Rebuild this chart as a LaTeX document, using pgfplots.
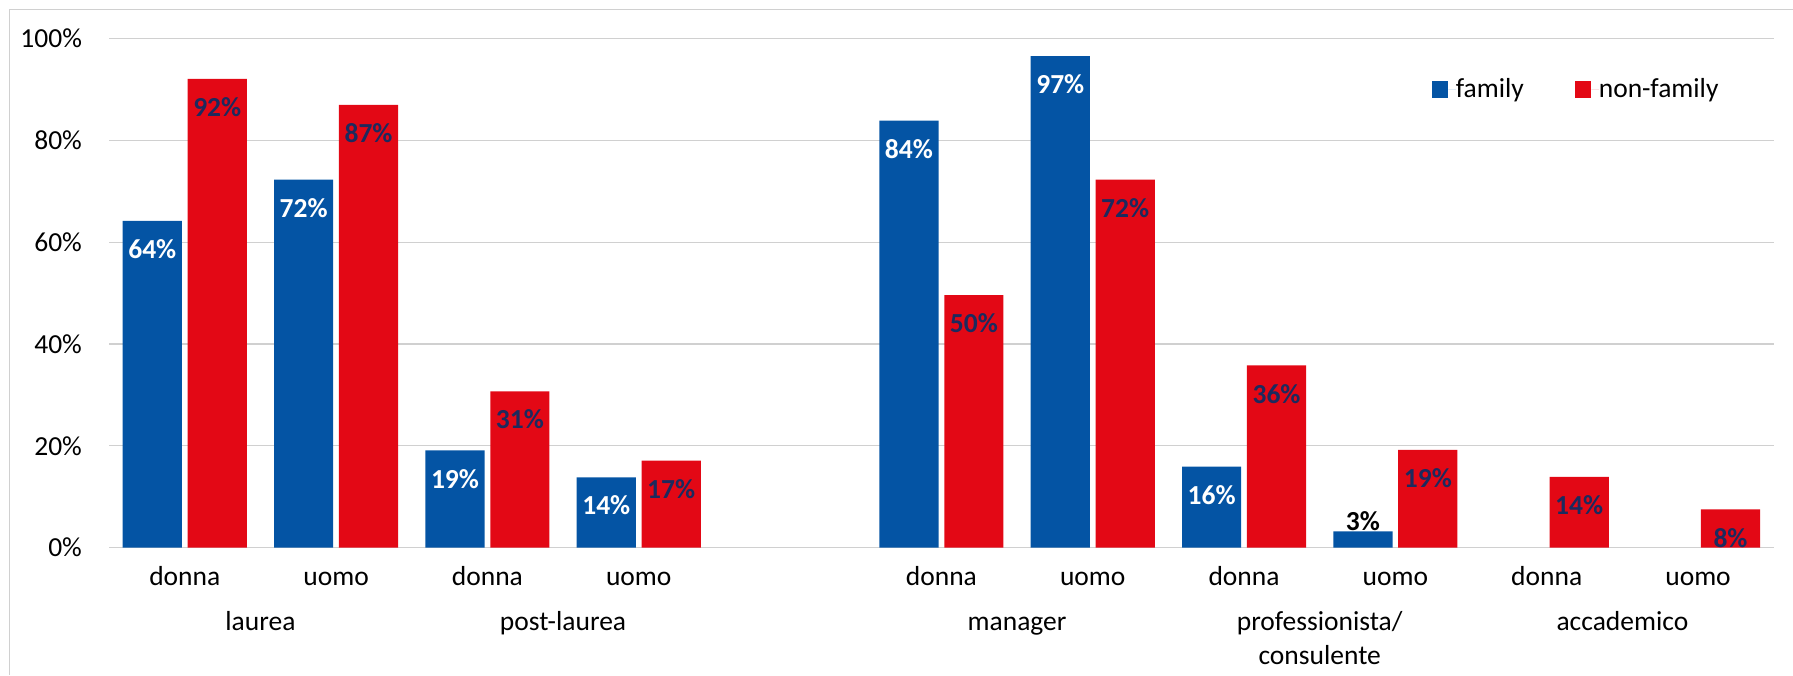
\documentclass[border=0pt]{standalone}
\usepackage{pgfplots}
\pgfplotsset{compat=1.18}
\usepackage{fontspec}
\setmainfont{Carlito}
\definecolor{fblue}{HTML}{0454A4}
\definecolor{nred}{HTML}{E30815}
\definecolor{navy}{HTML}{1C2A5E}
\definecolor{gridc}{HTML}{D0D0D0}
\newcommand{\fs}{\fontsize{13.75pt}{16.8pt}\selectfont}
\begin{document}
\begin{tikzpicture}
\path[use as bounding box] (-54.55pt,-63.7pt) rectangle (841.95pt,273.8pt);
\draw[gridc, line width=0.65pt] (-49.75pt,-63.7pt) -- (-49.75pt,269.05pt) -- (841.95pt,269.05pt);
\begin{axis}[
  scale only axis, width=832.3pt, height=254.45pt,
  xmin=-0.5, xmax=10.5, ymin=0, ymax=100,
  ybar=2.85pt, bar width=29.6pt,
  axis x line*=bottom, axis y line*=left, axis line style={draw=none},
  ymajorgrids, grid style={draw=gridc, line width=0.65pt},
  major tick length=0pt,
  ytick={0,20,40,60,80,100},
  yticklabel={\pgfmathprintnumber{\tick}\%},
  /pgf/number format/assume math mode=true,
  yticklabel style={anchor=east, inner sep=0pt, xshift=-13.4pt},
  xtick={0,1,2,3,5,6,7,8,9,10},
  xticklabels={donna,uomo,donna,uomo,donna,uomo,donna,uomo,donna,uomo},
  xticklabel style={anchor=base, inner sep=0pt, yshift=-18.7pt},
  tick label style={font=\fs},
  clip=false,
  point meta=explicit symbolic,
  nodes near coords,
  every node near coord/.append style={anchor=base, yshift=-18.8pt, font=\bfseries\fs, inner sep=0pt},
  legend columns=2,
  legend style={draw=none, fill=none, at={(0.7946,0.8998)}, anchor=west, inner sep=0pt, outer sep=0pt,
    font=\fs, /tikz/every even column/.append style={column sep=25.5pt},
    nodes={inner sep=0pt, outer sep=0pt}},
  myleg/.style={legend image code/.code={\fill[##1] (0pt,-4.1pt) rectangle (8.25pt,4.1pt); \path (8.25pt,0pt) -- (12pt,0pt);}},
]
\addplot[fill=fblue, draw=none, myleg, every node near coord/.append style={text=white}] coordinates {
  (0,64.2) [64\%]
  (1,72.3) [72\%]
  (2,19.1) [19\%]
  (3,13.8) [14\%]
  (5,83.9) [84\%]
  (6,96.6) [97\%]
  (7,15.9) [16\%]
  (8,3.2) [\smash{\raisebox{19.3pt}{\textcolor{black}{3\%}}}]
};
\addplot[fill=nred, draw=none, myleg, every node near coord/.append style={text=navy}] coordinates {
  (0,92.1) [92\%]
  (1,87.0) [87\%]
  (2,30.7) [31\%]
  (3,17.1) [17\%]
  (5,49.6) [50\%]
  (6,72.3) [72\%]
  (7,35.8) [36\%]
  (8,19.2) [19\%]
  (9,13.9) [14\%]
  (10,7.5) [8\%]
};
\legend{family,non-family}
\node[font=\fs, anchor=base, inner sep=0pt, yshift=-41.5pt] at (axis cs:0.5,0) {laurea};
\node[font=\fs, anchor=base, inner sep=0pt, yshift=-41.5pt] at (axis cs:2.5,0) {post-laurea};
\node[font=\fs, anchor=base, inner sep=0pt, yshift=-41.5pt] at (axis cs:5.5,0) {manager};
\node[font=\fs, anchor=base, inner sep=0pt, yshift=-41.5pt] at (axis cs:7.5,0) {professionista/};
\node[font=\fs, anchor=base, inner sep=0pt, yshift=-58.3pt] at (axis cs:7.5,0) {consulente};
\node[font=\fs, anchor=base, inner sep=0pt, yshift=-41.5pt] at (axis cs:9.5,0) {accademico};
\end{axis}
\end{tikzpicture}
\end{document}
